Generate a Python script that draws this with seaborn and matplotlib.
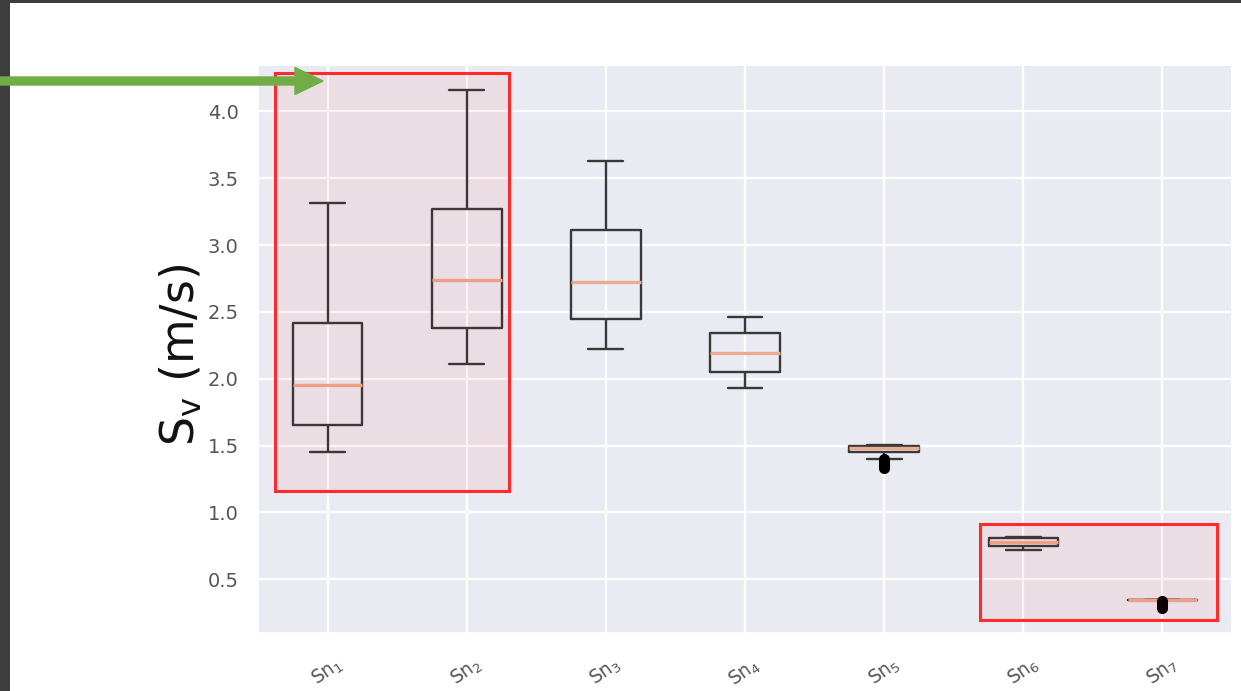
import numpy as np
import pandas as pd
import matplotlib
matplotlib.use("Agg")
import matplotlib.pyplot as plt
import seaborn as sns
from matplotlib.patches import Rectangle, FancyArrow
from matplotlib.transforms import IdentityTransform

# ---- data ----
categories = ["Sn1", "Sn2", "Sn3", "Sn4", "Sn5", "Sn6", "Sn7"]
tick_labels = [r"$\mathregular{Sn_1}$", r"$\mathregular{Sn_2}$", r"$\mathregular{Sn_3}$",
               r"$\mathregular{Sn_4}$", r"$\mathregular{Sn_5}$", r"$\mathregular{Sn_6}$",
               r"$\mathregular{Sn_7}$"]
whisker_low = [1.455, 2.110, 2.220, 1.928, 1.397, 0.718, 0.343]
q1 = [1.655, 2.376, 2.445, 2.052, 1.451, 0.748, 0.343]
median = [1.953, 2.736, 2.726, 2.190, 1.479, 0.775, 0.343]
q3 = [2.418, 3.270, 3.113, 2.344, 1.500, 0.810, 0.343]
whisker_high = [3.315, 4.163, 3.632, 2.464, 1.505, 0.812, 0.343]
outlier_cats = ["Sn5", "Sn5", "Sn5", "Sn5", "Sn5", "Sn7", "Sn7", "Sn7", "Sn7"]
outlier_values = [1.400, 1.385, 1.370, 1.355, 1.335, 0.340, 0.320, 0.300, 0.285]
y_ticks = [0.5, 1.0, 1.5, 2.0, 2.5, 3.0, 3.5, 4.0]
y_label = r"$\mathregular{S_v}$ (m/s)"

# ---- build long table: five summary values per box give exact quartiles ----
rows = []
for c, a, b, m, d, e in zip(categories, whisker_low, q1, median, q3, whisker_high):
    for v in (a, b, m, d, e):
        rows.append((c, v))
df = pd.DataFrame(rows, columns=["cat", "val"])

sns.set_theme(style="darkgrid")
plt.rcParams["font.family"] = ["DejaVu Sans"]

W, H = 1241, 691
fig = plt.figure(figsize=(W / 100, H / 100), dpi=100)
fig.patch.set_facecolor("white")
ax = fig.add_axes([258 / W, 1 - 633 / H, (1232 - 258) / W, (633 - 65) / H])

line_col = "#383838"
sns.boxplot(data=df, x="cat", y="val", order=categories, whis=(0, 100), width=0.5,
            fill=False, color=line_col, linewidth=1.7, showfliers=False,
            medianprops={"color": "#ebab8e", "linewidth": 2.4}, ax=ax)
sns.stripplot(x=outlier_cats, y=outlier_values, order=categories, jitter=False,
              color="black", size=8, linewidth=0, ax=ax, zorder=4)

ax.set_xlim(-0.5, 6.5)
ax.set_ylim(0.097, 4.348)
ax.set_yticks(y_ticks)
ax.set_yticklabels([f"{t:.1f}" for t in y_ticks], fontsize=14, color="#555555")
ax.set_xticks(range(len(categories)))
ax.set_xticklabels(tick_labels, rotation=35, fontsize=13.5, color="#555555")
ax.tick_params(axis="x", pad=9)
ax.tick_params(axis="y", pad=8)
ax.set_xlabel("")
ax.set_ylabel(y_label, fontsize=33, color="#111111")
ax.yaxis.set_label_coords(-0.055, 0.49)
ax.grid(True, color="white", linewidth=1.6)

# ---- screenshot annotations ----
def fig_rect(x0, y0, x1, y1, **kw):
    return Rectangle((x0, H - y1), x1 - x0, y1 - y0, transform=IdentityTransform(), **kw)

for (x0, y0, x1, y1) in [(275, 73, 509, 491), (980, 524, 1217, 620)]:
    fig.patches.append(fig_rect(x0, y0, x1, y1, facecolor=(1, 0, 0, 0.055),
                                edgecolor="#ff2a2a", linewidth=2.2, zorder=5))

fig.patches.append(fig_rect(0, 0, W, 3, facecolor="#3d3d3d", edgecolor="none", zorder=6))
fig.patches.append(fig_rect(0, 0, 10, H, facecolor="#3d3d3d", edgecolor="none", zorder=6))
fig.patches.append(FancyArrow(0, H - 81, 323, 0, width=8, head_width=27, head_length=28,
                              length_includes_head=True, color="#70ad47",
                              transform=IdentityTransform(), zorder=7))

fig.savefig("out.png", dpi=100)
